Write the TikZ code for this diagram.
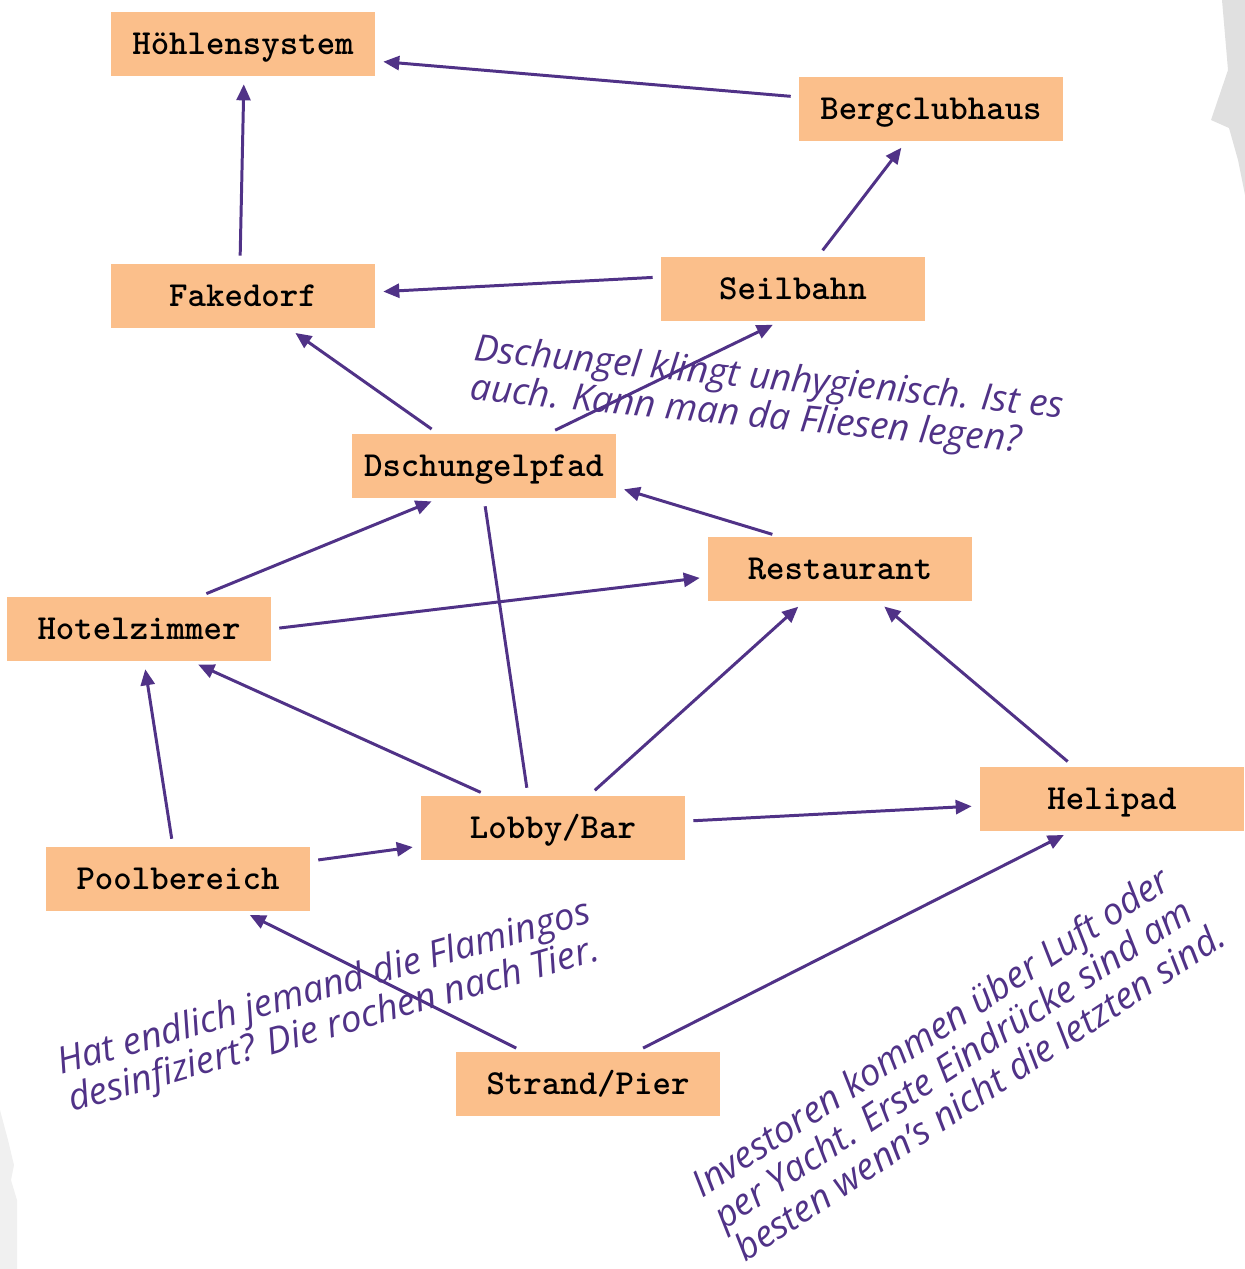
\documentclass[tikz,border=0pt]{standalone}
\usepackage{fontspec}
\newfontfamily\handfont{Open Sans}
\usetikzlibrary{calc,arrows.meta}

\definecolor{boxfill}{RGB}{251,191,139}
\definecolor{linkcol}{RGB}{80,50,135}

\tikzset{
  place/.style={fill=boxfill, minimum width=5.28cm, minimum height=1.28cm,
    inner sep=0pt, text height=12.3pt, text depth=0pt,
    font=\fontsize{20}{24}\selectfont\ttfamily\bfseries},
  link/.style={draw=linkcol, line width=1.7pt, shorten >=0.16cm, shorten <=0.16cm,
    -{Triangle[length=0.32cm,width=0.28cm]}},
  joinline/.style={link, -},
  remark/.style={text=linkcol, align=left, inner sep=0pt,
    font=\handfont\itshape\fontsize{21}{22}\selectfont},
}

\begin{document}
\begin{tikzpicture}[x=0.02cm, y=-0.02cm]
  \useasboundingbox (0,0) rectangle (1245,1269);
  % torn paper edges
  \fill[black!12] (1222,0) -- (1228,70) -- (1211,120) -- (1229,128) -- (1238,160) -- (1245,195) -- (1245,0) -- cycle;
  \fill[black!6] (0,1110) -- (8,1140) -- (14,1165) -- (11,1180) -- (17,1200) -- (17,1269) -- (0,1269) -- cycle;

  \node[place] (hoehle) at (243,44) {Höhlensystem};
  \node[place] (berg) at (931,109) {Bergclubhaus};
  \node[place] (fake) at (243,296) {Fakedorf};
  \node[place] (seil) at (793,289) {Seilbahn};
  \node[place] (dsch) at (484,466) {Dschungelpfad};
  \node[place] (rest) at (840,569) {Restaurant};
  \node[place] (hotel) at (139,629) {Hotelzimmer};
  \node[place] (lobby) at (553,828) {Lobby/Bar};
  \node[place] (heli) at (1112,799) {Helipad};
  \node[place] (pool) at (178,879) {Poolbereich};
  \node[place] (strand) at (588,1084) {Strand/Pier};

  \draw[link] ($(berg.west)+(0,-12)$) -- ($(hoehle.east)+(0,17)$);
  \draw[link] ($(fake.north)+(-3,0)$) -- ($(hoehle.south)+(1,0)$);
  \draw[link] (seil) -- (berg);
  \draw[link] ($(seil.west)+(0,-12)$) -- ($(fake.east)+(0,-4)$);
  \draw[link] (dsch) -- (fake);
  \draw[link] ($(dsch.north)+(64,0)$) -- ($(seil.south)+(-13,0)$);
  \draw[link] ($(rest.north)+(-60,0)$) -- ($(dsch.east)+(0,21)$);
  \draw[link] ($(hotel.north)+(60,0)$) -- ($(dsch.south)+(-45,0)$);
  \draw[link] (hotel.east) -- ($(rest.west)+(0,8)$);
  \draw[joinline] (dsch.south) -- ($(lobby.north)+(-25,0)$);
  \draw[link] ($(lobby.north)+(-65,0)$) -- ($(hotel.south)+(52,0)$);
  \draw[link] (lobby) -- (rest);
  \draw[link] (lobby) -- (heli);
  \draw[link] (heli) -- (rest);
  \draw[link] (pool) -- (hotel);
  \draw[link] (pool) -- (lobby);
  \draw[link] (strand) -- (pool);
  \draw[link] ($(strand.north)+(48,0)$) -- ($(heli.south)+(-41,0)$);

  \node[remark, rotate=-5.5] (noteA) at (767,399)
    {Dschungel klingt unhygienisch. Ist es\\auch. Kann man da Fliesen legen?};
  \node[remark, rotate=16] (noteB) at (330,1008)
    {Hat endlich jemand die Flamingos\\desinfiziert? Die rochen nach Tier.};
  \node[remark, rotate=33.5] (noteC) at (958,1059)
    {Investoren kommen über Luft oder\\per Yacht. Erste Eindrücke sind am\\besten wenn’s nicht die letzten sind.};
\end{tikzpicture}
\end{document}
